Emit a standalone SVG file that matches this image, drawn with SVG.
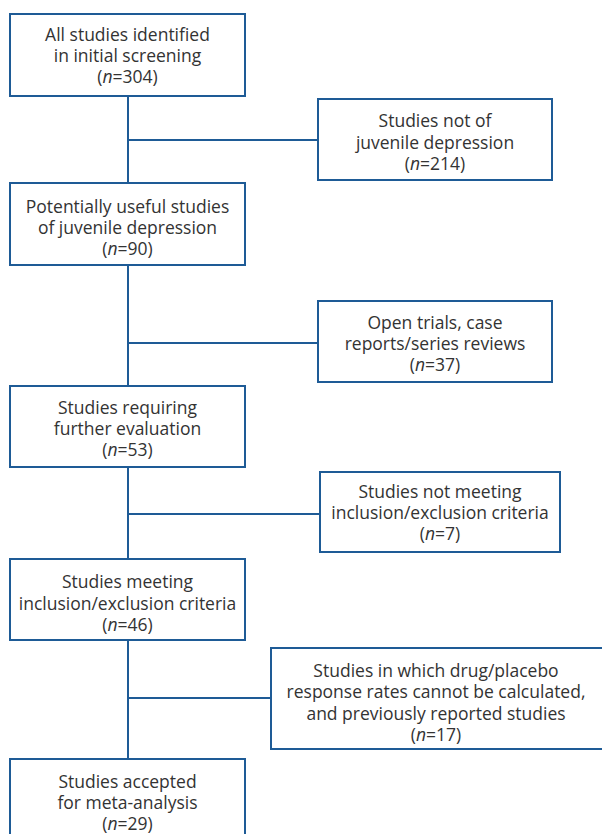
<svg xmlns="http://www.w3.org/2000/svg" width="602" height="834" viewBox="0 0 602 834">
<style>
.box{fill:#fff;stroke:#1e5b96;stroke-width:2}
.ln{fill:none;stroke:#1e5b96;stroke-width:2}
text{font-family:"Open Sans","Liberation Sans",Arial,sans-serif;font-size:17.5px;fill:#333;text-anchor:middle}
.i{font-style:italic}
</style>
<rect width="602" height="834" fill="#fff"/>
<g id="connectors">
<path class="ln" d="M128 96V183M128 140H318"/>
<path class="ln" d="M128 265V386M128 343H318"/>
<path class="ln" d="M128 467V559M128 514H320"/>
<path class="ln" d="M128 640V759M128 698H271"/>
</g>
<g id="n1"><rect class="box" x="10" y="14" width="235" height="82"/>
<text x="127.5" y="41">All studies identified</text><text x="127.5" y="62">in initial screening</text><text x="127.5" y="83">(<tspan class="i">n</tspan>=304)</text></g>
<g id="n2"><rect class="box" x="318" y="99" width="234" height="81"/>
<text x="435" y="127">Studies not of</text><text x="435" y="149">juvenile depression</text><text x="435" y="170">(<tspan class="i">n</tspan>=214)</text></g>
<g id="n3"><rect class="box" x="10" y="183" width="235" height="82"/>
<text x="127.5" y="213">Potentially useful studies</text><text x="127.5" y="234">of juvenile depression</text><text x="127.5" y="255">(<tspan class="i">n</tspan>=90)</text></g>
<g id="n4"><rect class="box" x="318" y="301" width="234" height="81"/>
<text x="435" y="329">Open trials, case</text><text x="435" y="350">reports/series reviews</text><text x="435" y="371">(<tspan class="i">n</tspan>=37)</text></g>
<g id="n5"><rect class="box" x="10" y="386" width="235" height="81"/>
<text x="127.5" y="414">Studies requiring</text><text x="127.5" y="435">further evaluation</text><text x="127.5" y="456">(<tspan class="i">n</tspan>=53)</text></g>
<g id="n6"><rect class="box" x="320" y="472" width="240" height="80"/>
<text x="440" y="498">Studies not meeting</text><text x="440" y="519">inclusion/exclusion criteria</text><text x="440" y="540">(<tspan class="i">n</tspan>=7)</text></g>
<g id="n7"><rect class="box" x="10" y="559" width="235" height="81"/>
<text x="127.5" y="588">Studies meeting</text><text x="127.5" y="610">inclusion/exclusion criteria</text><text x="127.5" y="631">(<tspan class="i">n</tspan>=46)</text></g>
<g id="n8"><rect class="box" x="271" y="648" width="340" height="101"/>
<text x="436" y="677">Studies in which drug/placebo</text><text x="436" y="698">response rates cannot be calculated,</text><text x="436" y="720">and previously reported studies</text><text x="436" y="741">(<tspan class="i">n</tspan>=17)</text></g>
<g id="n9"><rect class="box" x="10" y="759" width="235" height="90"/>
<text x="127.5" y="788">Studies accepted</text><text x="127.5" y="809">for meta-analysis</text><text x="127.5" y="830">(<tspan class="i">n</tspan>=29)</text></g>
</svg>
